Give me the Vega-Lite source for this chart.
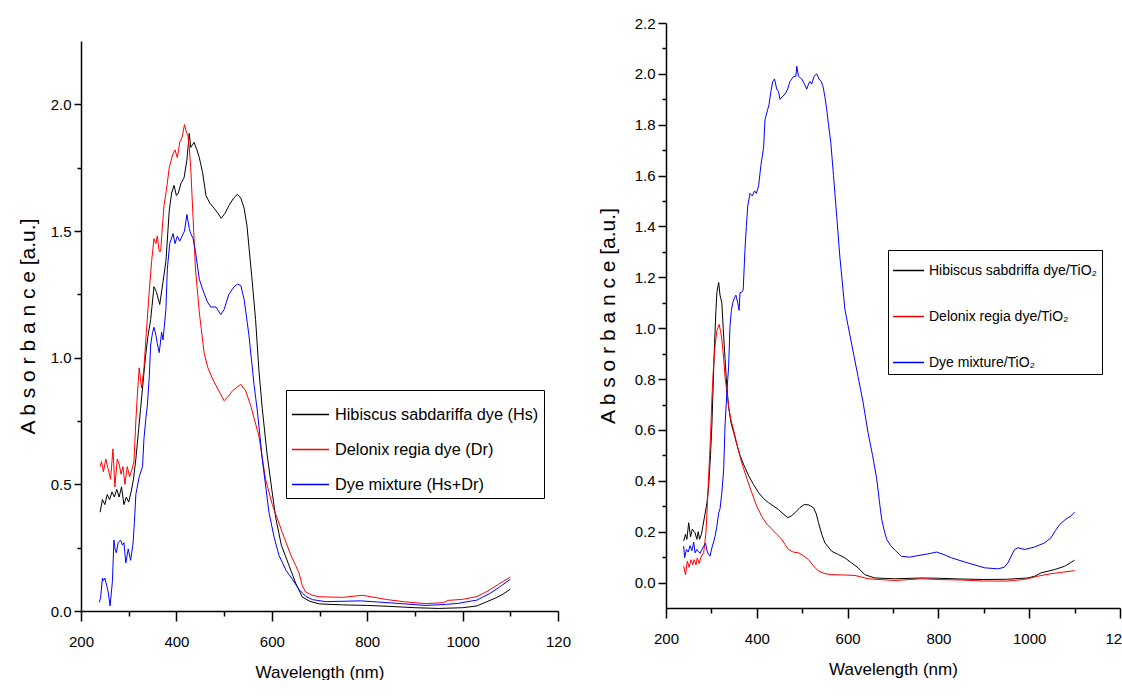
{
  "$schema": "https://vega.github.io/schema/vega-lite/v6.json",
  "padding": {"left": 17, "top": 16, "right": 0, "bottom": 0},
  "background": "white",
  "config": {
    "font": "Liberation Sans",
    "view": {"stroke": null},
    "axis": {
      "grid": false, "domainColor": "#000", "domainWidth": 1.5, "tickColor": "#000", "tickWidth": 1.5,
      "labelColor": "#000", "titleColor": "#000", "labelFont": "Liberation Sans", "titleFont": "Liberation Sans",
      "labelFontSize": 15, "titleFontWeight": "normal"
    },
    "legend": {"labelFont": "Liberation Sans", "labelColor": "#000"}
  },
  "spacing": 26,
  "resolve": {"scale": {"color": "independent"}, "legend": {"color": "independent"}},
  "datasets": {
    "left": [
      {"s":"Hibiscus sabdariffa dye (Hs)","w":240,"a":0.39},{"s":"Hibiscus sabdariffa dye (Hs)","w":245,"a":0.44},{"s":"Hibiscus sabdariffa dye (Hs)","w":250,"a":0.42},{"s":"Hibiscus sabdariffa dye (Hs)","w":255,"a":0.46},{"s":"Hibiscus sabdariffa dye (Hs)","w":260,"a":0.44},{"s":"Hibiscus sabdariffa dye (Hs)","w":265,"a":0.47},{"s":"Hibiscus sabdariffa dye (Hs)","w":270,"a":0.45},{"s":"Hibiscus sabdariffa dye (Hs)","w":275,"a":0.48},{"s":"Hibiscus sabdariffa dye (Hs)","w":280,"a":0.45},{"s":"Hibiscus sabdariffa dye (Hs)","w":285,"a":0.49},{"s":"Hibiscus sabdariffa dye (Hs)","w":290,"a":0.42},{"s":"Hibiscus sabdariffa dye (Hs)","w":295,"a":0.45},{"s":"Hibiscus sabdariffa dye (Hs)","w":300,"a":0.43},{"s":"Hibiscus sabdariffa dye (Hs)","w":305,"a":0.47},{"s":"Hibiscus sabdariffa dye (Hs)","w":310,"a":0.52},{"s":"Hibiscus sabdariffa dye (Hs)","w":315,"a":0.60},{"s":"Hibiscus sabdariffa dye (Hs)","w":320,"a":0.70},{"s":"Hibiscus sabdariffa dye (Hs)","w":325,"a":0.80},{"s":"Hibiscus sabdariffa dye (Hs)","w":330,"a":0.90},{"s":"Hibiscus sabdariffa dye (Hs)","w":335,"a":1.00},{"s":"Hibiscus sabdariffa dye (Hs)","w":340,"a":1.08},{"s":"Hibiscus sabdariffa dye (Hs)","w":346,"a":1.15},{"s":"Hibiscus sabdariffa dye (Hs)","w":353,"a":1.28},{"s":"Hibiscus sabdariffa dye (Hs)","w":358,"a":1.26},{"s":"Hibiscus sabdariffa dye (Hs)","w":365,"a":1.21},{"s":"Hibiscus sabdariffa dye (Hs)","w":372,"a":1.30},{"s":"Hibiscus sabdariffa dye (Hs)","w":378,"a":1.38},{"s":"Hibiscus sabdariffa dye (Hs)","w":385,"a":1.58},{"s":"Hibiscus sabdariffa dye (Hs)","w":390,"a":1.65},{"s":"Hibiscus sabdariffa dye (Hs)","w":395,"a":1.68},{"s":"Hibiscus sabdariffa dye (Hs)","w":400,"a":1.64},{"s":"Hibiscus sabdariffa dye (Hs)","w":404,"a":1.65},{"s":"Hibiscus sabdariffa dye (Hs)","w":410,"a":1.69},{"s":"Hibiscus sabdariffa dye (Hs)","w":416,"a":1.71},{"s":"Hibiscus sabdariffa dye (Hs)","w":422,"a":1.78},{"s":"Hibiscus sabdariffa dye (Hs)","w":427,"a":1.885},{"s":"Hibiscus sabdariffa dye (Hs)","w":430,"a":1.83},{"s":"Hibiscus sabdariffa dye (Hs)","w":437,"a":1.85},{"s":"Hibiscus sabdariffa dye (Hs)","w":443,"a":1.82},{"s":"Hibiscus sabdariffa dye (Hs)","w":448,"a":1.79},{"s":"Hibiscus sabdariffa dye (Hs)","w":455,"a":1.73},{"s":"Hibiscus sabdariffa dye (Hs)","w":462,"a":1.64},{"s":"Hibiscus sabdariffa dye (Hs)","w":470,"a":1.61},{"s":"Hibiscus sabdariffa dye (Hs)","w":479,"a":1.59},{"s":"Hibiscus sabdariffa dye (Hs)","w":487,"a":1.57},{"s":"Hibiscus sabdariffa dye (Hs)","w":494,"a":1.55},{"s":"Hibiscus sabdariffa dye (Hs)","w":502,"a":1.57},{"s":"Hibiscus sabdariffa dye (Hs)","w":510,"a":1.60},{"s":"Hibiscus sabdariffa dye (Hs)","w":520,"a":1.63},{"s":"Hibiscus sabdariffa dye (Hs)","w":528,"a":1.645},{"s":"Hibiscus sabdariffa dye (Hs)","w":535,"a":1.63},{"s":"Hibiscus sabdariffa dye (Hs)","w":542,"a":1.59},{"s":"Hibiscus sabdariffa dye (Hs)","w":548,"a":1.52},{"s":"Hibiscus sabdariffa dye (Hs)","w":552,"a":1.44},{"s":"Hibiscus sabdariffa dye (Hs)","w":558,"a":1.32},{"s":"Hibiscus sabdariffa dye (Hs)","w":566,"a":1.15},{"s":"Hibiscus sabdariffa dye (Hs)","w":573,"a":0.95},{"s":"Hibiscus sabdariffa dye (Hs)","w":580,"a":0.80},{"s":"Hibiscus sabdariffa dye (Hs)","w":590,"a":0.62},{"s":"Hibiscus sabdariffa dye (Hs)","w":600,"a":0.48},{"s":"Hibiscus sabdariffa dye (Hs)","w":608,"a":0.37},{"s":"Hibiscus sabdariffa dye (Hs)","w":620,"a":0.26},{"s":"Hibiscus sabdariffa dye (Hs)","w":636,"a":0.18},{"s":"Hibiscus sabdariffa dye (Hs)","w":650,"a":0.11},{"s":"Hibiscus sabdariffa dye (Hs)","w":664,"a":0.055},{"s":"Hibiscus sabdariffa dye (Hs)","w":680,"a":0.038},{"s":"Hibiscus sabdariffa dye (Hs)","w":700,"a":0.028},{"s":"Hibiscus sabdariffa dye (Hs)","w":750,"a":0.024},{"s":"Hibiscus sabdariffa dye (Hs)","w":800,"a":0.022},{"s":"Hibiscus sabdariffa dye (Hs)","w":850,"a":0.018},{"s":"Hibiscus sabdariffa dye (Hs)","w":900,"a":0.013},{"s":"Hibiscus sabdariffa dye (Hs)","w":950,"a":0.010},{"s":"Hibiscus sabdariffa dye (Hs)","w":1000,"a":0.013},{"s":"Hibiscus sabdariffa dye (Hs)","w":1030,"a":0.020},{"s":"Hibiscus sabdariffa dye (Hs)","w":1050,"a":0.036},{"s":"Hibiscus sabdariffa dye (Hs)","w":1070,"a":0.052},{"s":"Hibiscus sabdariffa dye (Hs)","w":1085,"a":0.067},{"s":"Hibiscus sabdariffa dye (Hs)","w":1100,"a":0.086},

      {"s":"Delonix regia  dye (Dr)","w":240,"a":0.57},{"s":"Delonix regia  dye (Dr)","w":243,"a":0.59},{"s":"Delonix regia  dye (Dr)","w":247,"a":0.55},{"s":"Delonix regia  dye (Dr)","w":252,"a":0.60},{"s":"Delonix regia  dye (Dr)","w":257,"a":0.56},{"s":"Delonix regia  dye (Dr)","w":262,"a":0.52},{"s":"Delonix regia  dye (Dr)","w":267,"a":0.64},{"s":"Delonix regia  dye (Dr)","w":271,"a":0.49},{"s":"Delonix regia  dye (Dr)","w":276,"a":0.60},{"s":"Delonix regia  dye (Dr)","w":280,"a":0.58},{"s":"Delonix regia  dye (Dr)","w":284,"a":0.54},{"s":"Delonix regia  dye (Dr)","w":288,"a":0.57},{"s":"Delonix regia  dye (Dr)","w":292,"a":0.50},{"s":"Delonix regia  dye (Dr)","w":297,"a":0.57},{"s":"Delonix regia  dye (Dr)","w":302,"a":0.53},{"s":"Delonix regia  dye (Dr)","w":307,"a":0.56},{"s":"Delonix regia  dye (Dr)","w":311,"a":0.59},{"s":"Delonix regia  dye (Dr)","w":315,"a":0.75},{"s":"Delonix regia  dye (Dr)","w":318,"a":0.85},{"s":"Delonix regia  dye (Dr)","w":322,"a":0.96},{"s":"Delonix regia  dye (Dr)","w":327,"a":0.88},{"s":"Delonix regia  dye (Dr)","w":332,"a":0.96},{"s":"Delonix regia  dye (Dr)","w":337,"a":1.10},{"s":"Delonix regia  dye (Dr)","w":343,"a":1.26},{"s":"Delonix regia  dye (Dr)","w":348,"a":1.38},{"s":"Delonix regia  dye (Dr)","w":353,"a":1.47},{"s":"Delonix regia  dye (Dr)","w":357,"a":1.45},{"s":"Delonix regia  dye (Dr)","w":360,"a":1.48},{"s":"Delonix regia  dye (Dr)","w":364,"a":1.42},{"s":"Delonix regia  dye (Dr)","w":367,"a":1.42},{"s":"Delonix regia  dye (Dr)","w":370,"a":1.50},{"s":"Delonix regia  dye (Dr)","w":374,"a":1.60},{"s":"Delonix regia  dye (Dr)","w":379,"a":1.66},{"s":"Delonix regia  dye (Dr)","w":385,"a":1.75},{"s":"Delonix regia  dye (Dr)","w":392,"a":1.80},{"s":"Delonix regia  dye (Dr)","w":397,"a":1.82},{"s":"Delonix regia  dye (Dr)","w":402,"a":1.79},{"s":"Delonix regia  dye (Dr)","w":407,"a":1.85},{"s":"Delonix regia  dye (Dr)","w":412,"a":1.87},{"s":"Delonix regia  dye (Dr)","w":417,"a":1.92},{"s":"Delonix regia  dye (Dr)","w":421,"a":1.89},{"s":"Delonix regia  dye (Dr)","w":424,"a":1.88},{"s":"Delonix regia  dye (Dr)","w":427,"a":1.83},{"s":"Delonix regia  dye (Dr)","w":430,"a":1.75},{"s":"Delonix regia  dye (Dr)","w":435,"a":1.55},{"s":"Delonix regia  dye (Dr)","w":440,"a":1.35},{"s":"Delonix regia  dye (Dr)","w":448,"a":1.18},{"s":"Delonix regia  dye (Dr)","w":458,"a":1.02},{"s":"Delonix regia  dye (Dr)","w":466,"a":0.96},{"s":"Delonix regia  dye (Dr)","w":475,"a":0.92},{"s":"Delonix regia  dye (Dr)","w":483,"a":0.89},{"s":"Delonix regia  dye (Dr)","w":490,"a":0.865},{"s":"Delonix regia  dye (Dr)","w":500,"a":0.83},{"s":"Delonix regia  dye (Dr)","w":510,"a":0.85},{"s":"Delonix regia  dye (Dr)","w":518,"a":0.87},{"s":"Delonix regia  dye (Dr)","w":525,"a":0.88},{"s":"Delonix regia  dye (Dr)","w":535,"a":0.895},{"s":"Delonix regia  dye (Dr)","w":545,"a":0.87},{"s":"Delonix regia  dye (Dr)","w":556,"a":0.81},{"s":"Delonix regia  dye (Dr)","w":563,"a":0.76},{"s":"Delonix regia  dye (Dr)","w":573,"a":0.69},{"s":"Delonix regia  dye (Dr)","w":587,"a":0.52},{"s":"Delonix regia  dye (Dr)","w":601,"a":0.42},{"s":"Delonix regia  dye (Dr)","w":622,"a":0.31},{"s":"Delonix regia  dye (Dr)","w":640,"a":0.22},{"s":"Delonix regia  dye (Dr)","w":650,"a":0.18},{"s":"Delonix regia  dye (Dr)","w":657,"a":0.15},{"s":"Delonix regia  dye (Dr)","w":664,"a":0.10},{"s":"Delonix regia  dye (Dr)","w":671,"a":0.075},{"s":"Delonix regia  dye (Dr)","w":685,"a":0.062},{"s":"Delonix regia  dye (Dr)","w":700,"a":0.056},{"s":"Delonix regia  dye (Dr)","w":750,"a":0.054},{"s":"Delonix regia  dye (Dr)","w":790,"a":0.062},{"s":"Delonix regia  dye (Dr)","w":842,"a":0.045},{"s":"Delonix regia  dye (Dr)","w":880,"a":0.036},{"s":"Delonix regia  dye (Dr)","w":923,"a":0.029},{"s":"Delonix regia  dye (Dr)","w":960,"a":0.033},{"s":"Delonix regia  dye (Dr)","w":970,"a":0.042},{"s":"Delonix regia  dye (Dr)","w":1000,"a":0.046},{"s":"Delonix regia  dye (Dr)","w":1030,"a":0.057},{"s":"Delonix regia  dye (Dr)","w":1051,"a":0.077},{"s":"Delonix regia  dye (Dr)","w":1075,"a":0.105},{"s":"Delonix regia  dye (Dr)","w":1100,"a":0.134},

      {"s":"Dye mixture (Hs+Dr)","w":238,"a":0.034},{"s":"Dye mixture (Hs+Dr)","w":241,"a":0.05},{"s":"Dye mixture (Hs+Dr)","w":245,"a":0.13},{"s":"Dye mixture (Hs+Dr)","w":247,"a":0.12},{"s":"Dye mixture (Hs+Dr)","w":250,"a":0.13},{"s":"Dye mixture (Hs+Dr)","w":254,"a":0.10},{"s":"Dye mixture (Hs+Dr)","w":257,"a":0.075},{"s":"Dye mixture (Hs+Dr)","w":261,"a":0.02},{"s":"Dye mixture (Hs+Dr)","w":266,"a":0.12},{"s":"Dye mixture (Hs+Dr)","w":269,"a":0.28},{"s":"Dye mixture (Hs+Dr)","w":272,"a":0.24},{"s":"Dye mixture (Hs+Dr)","w":274,"a":0.23},{"s":"Dye mixture (Hs+Dr)","w":278,"a":0.27},{"s":"Dye mixture (Hs+Dr)","w":283,"a":0.28},{"s":"Dye mixture (Hs+Dr)","w":287,"a":0.26},{"s":"Dye mixture (Hs+Dr)","w":290,"a":0.27},{"s":"Dye mixture (Hs+Dr)","w":294,"a":0.19},{"s":"Dye mixture (Hs+Dr)","w":299,"a":0.245},{"s":"Dye mixture (Hs+Dr)","w":304,"a":0.20},{"s":"Dye mixture (Hs+Dr)","w":309,"a":0.265},{"s":"Dye mixture (Hs+Dr)","w":312,"a":0.35},{"s":"Dye mixture (Hs+Dr)","w":315,"a":0.46},{"s":"Dye mixture (Hs+Dr)","w":322,"a":0.53},{"s":"Dye mixture (Hs+Dr)","w":329,"a":0.57},{"s":"Dye mixture (Hs+Dr)","w":332,"a":0.68},{"s":"Dye mixture (Hs+Dr)","w":336,"a":0.76},{"s":"Dye mixture (Hs+Dr)","w":339,"a":0.81},{"s":"Dye mixture (Hs+Dr)","w":343,"a":0.92},{"s":"Dye mixture (Hs+Dr)","w":346,"a":1.05},{"s":"Dye mixture (Hs+Dr)","w":350,"a":1.10},{"s":"Dye mixture (Hs+Dr)","w":353,"a":1.12},{"s":"Dye mixture (Hs+Dr)","w":357,"a":1.09},{"s":"Dye mixture (Hs+Dr)","w":360,"a":1.055},{"s":"Dye mixture (Hs+Dr)","w":364,"a":1.02},{"s":"Dye mixture (Hs+Dr)","w":369,"a":1.10},{"s":"Dye mixture (Hs+Dr)","w":372,"a":1.07},{"s":"Dye mixture (Hs+Dr)","w":378,"a":1.19},{"s":"Dye mixture (Hs+Dr)","w":381,"a":1.35},{"s":"Dye mixture (Hs+Dr)","w":386,"a":1.45},{"s":"Dye mixture (Hs+Dr)","w":393,"a":1.49},{"s":"Dye mixture (Hs+Dr)","w":397,"a":1.45},{"s":"Dye mixture (Hs+Dr)","w":402,"a":1.48},{"s":"Dye mixture (Hs+Dr)","w":407,"a":1.46},{"s":"Dye mixture (Hs+Dr)","w":412,"a":1.48},{"s":"Dye mixture (Hs+Dr)","w":417,"a":1.50},{"s":"Dye mixture (Hs+Dr)","w":422,"a":1.565},{"s":"Dye mixture (Hs+Dr)","w":427,"a":1.51},{"s":"Dye mixture (Hs+Dr)","w":430,"a":1.49},{"s":"Dye mixture (Hs+Dr)","w":435,"a":1.47},{"s":"Dye mixture (Hs+Dr)","w":440,"a":1.42},{"s":"Dye mixture (Hs+Dr)","w":448,"a":1.31},{"s":"Dye mixture (Hs+Dr)","w":455,"a":1.27},{"s":"Dye mixture (Hs+Dr)","w":465,"a":1.22},{"s":"Dye mixture (Hs+Dr)","w":472,"a":1.20},{"s":"Dye mixture (Hs+Dr)","w":483,"a":1.20},{"s":"Dye mixture (Hs+Dr)","w":493,"a":1.17},{"s":"Dye mixture (Hs+Dr)","w":500,"a":1.19},{"s":"Dye mixture (Hs+Dr)","w":510,"a":1.25},{"s":"Dye mixture (Hs+Dr)","w":521,"a":1.28},{"s":"Dye mixture (Hs+Dr)","w":528,"a":1.29},{"s":"Dye mixture (Hs+Dr)","w":535,"a":1.285},{"s":"Dye mixture (Hs+Dr)","w":542,"a":1.23},{"s":"Dye mixture (Hs+Dr)","w":552,"a":1.09},{"s":"Dye mixture (Hs+Dr)","w":563,"a":0.89},{"s":"Dye mixture (Hs+Dr)","w":570,"a":0.785},{"s":"Dye mixture (Hs+Dr)","w":580,"a":0.60},{"s":"Dye mixture (Hs+Dr)","w":594,"a":0.39},{"s":"Dye mixture (Hs+Dr)","w":605,"a":0.29},{"s":"Dye mixture (Hs+Dr)","w":615,"a":0.22},{"s":"Dye mixture (Hs+Dr)","w":630,"a":0.16},{"s":"Dye mixture (Hs+Dr)","w":643,"a":0.126},{"s":"Dye mixture (Hs+Dr)","w":657,"a":0.085},{"s":"Dye mixture (Hs+Dr)","w":671,"a":0.058},{"s":"Dye mixture (Hs+Dr)","w":685,"a":0.045},{"s":"Dye mixture (Hs+Dr)","w":713,"a":0.037},{"s":"Dye mixture (Hs+Dr)","w":786,"a":0.040},{"s":"Dye mixture (Hs+Dr)","w":850,"a":0.032},{"s":"Dye mixture (Hs+Dr)","w":923,"a":0.022},{"s":"Dye mixture (Hs+Dr)","w":964,"a":0.026},{"s":"Dye mixture (Hs+Dr)","w":990,"a":0.030},{"s":"Dye mixture (Hs+Dr)","w":1030,"a":0.043},{"s":"Dye mixture (Hs+Dr)","w":1058,"a":0.070},{"s":"Dye mixture (Hs+Dr)","w":1080,"a":0.098},{"s":"Dye mixture (Hs+Dr)","w":1100,"a":0.125}
    ],
    "right": [
      {"s":"Hibiscus sabdriffa dye/TiO₂","w":239,"a":0.163},{"s":"Hibiscus sabdriffa dye/TiO₂","w":243,"a":0.19},{"s":"Hibiscus sabdriffa dye/TiO₂","w":246,"a":0.17},{"s":"Hibiscus sabdriffa dye/TiO₂","w":250,"a":0.235},{"s":"Hibiscus sabdriffa dye/TiO₂","w":254,"a":0.18},{"s":"Hibiscus sabdriffa dye/TiO₂","w":258,"a":0.21},{"s":"Hibiscus sabdriffa dye/TiO₂","w":262,"a":0.20},{"s":"Hibiscus sabdriffa dye/TiO₂","w":264,"a":0.196},{"s":"Hibiscus sabdriffa dye/TiO₂","w":268,"a":0.17},{"s":"Hibiscus sabdriffa dye/TiO₂","w":271,"a":0.20},{"s":"Hibiscus sabdriffa dye/TiO₂","w":274,"a":0.17},{"s":"Hibiscus sabdriffa dye/TiO₂","w":278,"a":0.19},{"s":"Hibiscus sabdriffa dye/TiO₂","w":281,"a":0.22},{"s":"Hibiscus sabdriffa dye/TiO₂","w":286,"a":0.27},{"s":"Hibiscus sabdriffa dye/TiO₂","w":290,"a":0.31},{"s":"Hibiscus sabdriffa dye/TiO₂","w":294,"a":0.38},{"s":"Hibiscus sabdriffa dye/TiO₂","w":298,"a":0.50},{"s":"Hibiscus sabdriffa dye/TiO₂","w":301,"a":0.615},{"s":"Hibiscus sabdriffa dye/TiO₂","w":304,"a":0.78},{"s":"Hibiscus sabdriffa dye/TiO₂","w":307,"a":0.94},{"s":"Hibiscus sabdriffa dye/TiO₂","w":310,"a":1.07},{"s":"Hibiscus sabdriffa dye/TiO₂","w":312,"a":1.14},{"s":"Hibiscus sabdriffa dye/TiO₂","w":316,"a":1.18},{"s":"Hibiscus sabdriffa dye/TiO₂","w":319,"a":1.13},{"s":"Hibiscus sabdriffa dye/TiO₂","w":323,"a":1.10},{"s":"Hibiscus sabdriffa dye/TiO₂","w":326,"a":1.00},{"s":"Hibiscus sabdriffa dye/TiO₂","w":330,"a":0.88},{"s":"Hibiscus sabdriffa dye/TiO₂","w":334,"a":0.77},{"s":"Hibiscus sabdriffa dye/TiO₂","w":338,"a":0.69},{"s":"Hibiscus sabdriffa dye/TiO₂","w":343,"a":0.63},{"s":"Hibiscus sabdriffa dye/TiO₂","w":349,"a":0.59},{"s":"Hibiscus sabdriffa dye/TiO₂","w":355,"a":0.55},{"s":"Hibiscus sabdriffa dye/TiO₂","w":363,"a":0.50},{"s":"Hibiscus sabdriffa dye/TiO₂","w":372,"a":0.46},{"s":"Hibiscus sabdriffa dye/TiO₂","w":382,"a":0.42},{"s":"Hibiscus sabdriffa dye/TiO₂","w":393,"a":0.385},{"s":"Hibiscus sabdriffa dye/TiO₂","w":404,"a":0.353},{"s":"Hibiscus sabdriffa dye/TiO₂","w":415,"a":0.33},{"s":"Hibiscus sabdriffa dye/TiO₂","w":426,"a":0.314},{"s":"Hibiscus sabdriffa dye/TiO₂","w":437,"a":0.30},{"s":"Hibiscus sabdriffa dye/TiO₂","w":448,"a":0.287},{"s":"Hibiscus sabdriffa dye/TiO₂","w":458,"a":0.27},{"s":"Hibiscus sabdriffa dye/TiO₂","w":468,"a":0.255},{"s":"Hibiscus sabdriffa dye/TiO₂","w":476,"a":0.262},{"s":"Hibiscus sabdriffa dye/TiO₂","w":484,"a":0.274},{"s":"Hibiscus sabdriffa dye/TiO₂","w":495,"a":0.295},{"s":"Hibiscus sabdriffa dye/TiO₂","w":505,"a":0.307},{"s":"Hibiscus sabdriffa dye/TiO₂","w":515,"a":0.305},{"s":"Hibiscus sabdriffa dye/TiO₂","w":525,"a":0.294},{"s":"Hibiscus sabdriffa dye/TiO₂","w":531,"a":0.27},{"s":"Hibiscus sabdriffa dye/TiO₂","w":536,"a":0.235},{"s":"Hibiscus sabdriffa dye/TiO₂","w":543,"a":0.19},{"s":"Hibiscus sabdriffa dye/TiO₂","w":550,"a":0.156},{"s":"Hibiscus sabdriffa dye/TiO₂","w":565,"a":0.123},{"s":"Hibiscus sabdriffa dye/TiO₂","w":580,"a":0.11},{"s":"Hibiscus sabdriffa dye/TiO₂","w":594,"a":0.097},{"s":"Hibiscus sabdriffa dye/TiO₂","w":609,"a":0.077},{"s":"Hibiscus sabdriffa dye/TiO₂","w":623,"a":0.058},{"s":"Hibiscus sabdriffa dye/TiO₂","w":638,"a":0.031},{"s":"Hibiscus sabdriffa dye/TiO₂","w":660,"a":0.018},{"s":"Hibiscus sabdriffa dye/TiO₂","w":704,"a":0.015},{"s":"Hibiscus sabdriffa dye/TiO₂","w":763,"a":0.018},{"s":"Hibiscus sabdriffa dye/TiO₂","w":800,"a":0.017},{"s":"Hibiscus sabdriffa dye/TiO₂","w":850,"a":0.014},{"s":"Hibiscus sabdriffa dye/TiO₂","w":900,"a":0.012},{"s":"Hibiscus sabdriffa dye/TiO₂","w":950,"a":0.013},{"s":"Hibiscus sabdriffa dye/TiO₂","w":997,"a":0.018},{"s":"Hibiscus sabdriffa dye/TiO₂","w":1012,"a":0.025},{"s":"Hibiscus sabdriffa dye/TiO₂","w":1026,"a":0.038},{"s":"Hibiscus sabdriffa dye/TiO₂","w":1056,"a":0.051},{"s":"Hibiscus sabdriffa dye/TiO₂","w":1078,"a":0.064},{"s":"Hibiscus sabdriffa dye/TiO₂","w":1100,"a":0.088},

      {"s":"Delonix regia dye/TiO₂","w":239,"a":0.064},{"s":"Delonix regia dye/TiO₂","w":243,"a":0.031},{"s":"Delonix regia dye/TiO₂","w":247,"a":0.084},{"s":"Delonix regia dye/TiO₂","w":251,"a":0.06},{"s":"Delonix regia dye/TiO₂","w":255,"a":0.09},{"s":"Delonix regia dye/TiO₂","w":259,"a":0.07},{"s":"Delonix regia dye/TiO₂","w":262,"a":0.09},{"s":"Delonix regia dye/TiO₂","w":266,"a":0.07},{"s":"Delonix regia dye/TiO₂","w":269,"a":0.097},{"s":"Delonix regia dye/TiO₂","w":273,"a":0.075},{"s":"Delonix regia dye/TiO₂","w":277,"a":0.10},{"s":"Delonix regia dye/TiO₂","w":283,"a":0.117},{"s":"Delonix regia dye/TiO₂","w":288,"a":0.196},{"s":"Delonix regia dye/TiO₂","w":291,"a":0.30},{"s":"Delonix regia dye/TiO₂","w":294,"a":0.42},{"s":"Delonix regia dye/TiO₂","w":298,"a":0.57},{"s":"Delonix regia dye/TiO₂","w":301,"a":0.72},{"s":"Delonix regia dye/TiO₂","w":304,"a":0.83},{"s":"Delonix regia dye/TiO₂","w":308,"a":0.93},{"s":"Delonix regia dye/TiO₂","w":312,"a":0.99},{"s":"Delonix regia dye/TiO₂","w":317,"a":1.015},{"s":"Delonix regia dye/TiO₂","w":320,"a":0.99},{"s":"Delonix regia dye/TiO₂","w":323,"a":0.957},{"s":"Delonix regia dye/TiO₂","w":327,"a":0.88},{"s":"Delonix regia dye/TiO₂","w":330,"a":0.81},{"s":"Delonix regia dye/TiO₂","w":334,"a":0.75},{"s":"Delonix regia dye/TiO₂","w":338,"a":0.69},{"s":"Delonix regia dye/TiO₂","w":343,"a":0.64},{"s":"Delonix regia dye/TiO₂","w":349,"a":0.60},{"s":"Delonix regia dye/TiO₂","w":358,"a":0.53},{"s":"Delonix regia dye/TiO₂","w":367,"a":0.47},{"s":"Delonix regia dye/TiO₂","w":378,"a":0.41},{"s":"Delonix regia dye/TiO₂","w":389,"a":0.353},{"s":"Delonix regia dye/TiO₂","w":400,"a":0.30},{"s":"Delonix regia dye/TiO₂","w":411,"a":0.26},{"s":"Delonix regia dye/TiO₂","w":422,"a":0.23},{"s":"Delonix regia dye/TiO₂","w":433,"a":0.21},{"s":"Delonix regia dye/TiO₂","w":444,"a":0.19},{"s":"Delonix regia dye/TiO₂","w":455,"a":0.17},{"s":"Delonix regia dye/TiO₂","w":462,"a":0.15},{"s":"Delonix regia dye/TiO₂","w":470,"a":0.13},{"s":"Delonix regia dye/TiO₂","w":480,"a":0.12},{"s":"Delonix regia dye/TiO₂","w":492,"a":0.117},{"s":"Delonix regia dye/TiO₂","w":503,"a":0.105},{"s":"Delonix regia dye/TiO₂","w":514,"a":0.09},{"s":"Delonix regia dye/TiO₂","w":525,"a":0.065},{"s":"Delonix regia dye/TiO₂","w":536,"a":0.045},{"s":"Delonix regia dye/TiO₂","w":550,"a":0.035},{"s":"Delonix regia dye/TiO₂","w":565,"a":0.031},{"s":"Delonix regia dye/TiO₂","w":590,"a":0.030},{"s":"Delonix regia dye/TiO₂","w":616,"a":0.028},{"s":"Delonix regia dye/TiO₂","w":645,"a":0.015},{"s":"Delonix regia dye/TiO₂","w":704,"a":0.008},{"s":"Delonix regia dye/TiO₂","w":763,"a":0.015},{"s":"Delonix regia dye/TiO₂","w":800,"a":0.012},{"s":"Delonix regia dye/TiO₂","w":850,"a":0.010},{"s":"Delonix regia dye/TiO₂","w":900,"a":0.006},{"s":"Delonix regia dye/TiO₂","w":950,"a":0.006},{"s":"Delonix regia dye/TiO₂","w":990,"a":0.012},{"s":"Delonix regia dye/TiO₂","w":1019,"a":0.025},{"s":"Delonix regia dye/TiO₂","w":1048,"a":0.035},{"s":"Delonix regia dye/TiO₂","w":1075,"a":0.041},{"s":"Delonix regia dye/TiO₂","w":1100,"a":0.047},

      {"s":"Dye mixture/TiO₂","w":239,"a":0.143},{"s":"Dye mixture/TiO₂","w":241,"a":0.098},{"s":"Dye mixture/TiO₂","w":245,"a":0.13},{"s":"Dye mixture/TiO₂","w":249,"a":0.12},{"s":"Dye mixture/TiO₂","w":253,"a":0.145},{"s":"Dye mixture/TiO₂","w":257,"a":0.125},{"s":"Dye mixture/TiO₂","w":261,"a":0.159},{"s":"Dye mixture/TiO₂","w":264,"a":0.117},{"s":"Dye mixture/TiO₂","w":268,"a":0.13},{"s":"Dye mixture/TiO₂","w":271,"a":0.123},{"s":"Dye mixture/TiO₂","w":275,"a":0.115},{"s":"Dye mixture/TiO₂","w":279,"a":0.13},{"s":"Dye mixture/TiO₂","w":283,"a":0.143},{"s":"Dye mixture/TiO₂","w":287,"a":0.155},{"s":"Dye mixture/TiO₂","w":291,"a":0.12},{"s":"Dye mixture/TiO₂","w":294,"a":0.11},{"s":"Dye mixture/TiO₂","w":297,"a":0.104},{"s":"Dye mixture/TiO₂","w":302,"a":0.143},{"s":"Dye mixture/TiO₂","w":305,"a":0.16},{"s":"Dye mixture/TiO₂","w":308,"a":0.182},{"s":"Dye mixture/TiO₂","w":312,"a":0.22},{"s":"Dye mixture/TiO₂","w":316,"a":0.274},{"s":"Dye mixture/TiO₂","w":319,"a":0.29},{"s":"Dye mixture/TiO₂","w":323,"a":0.353},{"s":"Dye mixture/TiO₂","w":327,"a":0.445},{"s":"Dye mixture/TiO₂","w":330,"a":0.615},{"s":"Dye mixture/TiO₂","w":334,"a":0.747},{"s":"Dye mixture/TiO₂","w":338,"a":0.85},{"s":"Dye mixture/TiO₂","w":341,"a":1.01},{"s":"Dye mixture/TiO₂","w":344,"a":1.07},{"s":"Dye mixture/TiO₂","w":347,"a":1.10},{"s":"Dye mixture/TiO₂","w":351,"a":1.12},{"s":"Dye mixture/TiO₂","w":354,"a":1.13},{"s":"Dye mixture/TiO₂","w":358,"a":1.10},{"s":"Dye mixture/TiO₂","w":361,"a":1.07},{"s":"Dye mixture/TiO₂","w":363,"a":1.14},{"s":"Dye mixture/TiO₂","w":366,"a":1.14},{"s":"Dye mixture/TiO₂","w":370,"a":1.15},{"s":"Dye mixture/TiO₂","w":374,"a":1.31},{"s":"Dye mixture/TiO₂","w":377,"a":1.40},{"s":"Dye mixture/TiO₂","w":380,"a":1.48},{"s":"Dye mixture/TiO₂","w":385,"a":1.53},{"s":"Dye mixture/TiO₂","w":390,"a":1.52},{"s":"Dye mixture/TiO₂","w":395,"a":1.54},{"s":"Dye mixture/TiO₂","w":399,"a":1.53},{"s":"Dye mixture/TiO₂","w":404,"a":1.56},{"s":"Dye mixture/TiO₂","w":409,"a":1.64},{"s":"Dye mixture/TiO₂","w":415,"a":1.71},{"s":"Dye mixture/TiO₂","w":418,"a":1.82},{"s":"Dye mixture/TiO₂","w":424,"a":1.86},{"s":"Dye mixture/TiO₂","w":427,"a":1.88},{"s":"Dye mixture/TiO₂","w":431,"a":1.93},{"s":"Dye mixture/TiO₂","w":435,"a":1.97},{"s":"Dye mixture/TiO₂","w":439,"a":1.98},{"s":"Dye mixture/TiO₂","w":444,"a":1.94},{"s":"Dye mixture/TiO₂","w":448,"a":1.93},{"s":"Dye mixture/TiO₂","w":451,"a":1.90},{"s":"Dye mixture/TiO₂","w":456,"a":1.91},{"s":"Dye mixture/TiO₂","w":462,"a":1.92},{"s":"Dye mixture/TiO₂","w":468,"a":1.94},{"s":"Dye mixture/TiO₂","w":473,"a":1.97},{"s":"Dye mixture/TiO₂","w":481,"a":1.99},{"s":"Dye mixture/TiO₂","w":486,"a":1.99},{"s":"Dye mixture/TiO₂","w":488,"a":2.03},{"s":"Dye mixture/TiO₂","w":492,"a":1.99},{"s":"Dye mixture/TiO₂","w":499,"a":1.98},{"s":"Dye mixture/TiO₂","w":505,"a":1.96},{"s":"Dye mixture/TiO₂","w":510,"a":1.94},{"s":"Dye mixture/TiO₂","w":514,"a":1.96},{"s":"Dye mixture/TiO₂","w":517,"a":1.97},{"s":"Dye mixture/TiO₂","w":521,"a":1.96},{"s":"Dye mixture/TiO₂","w":526,"a":1.99},{"s":"Dye mixture/TiO₂","w":532,"a":2.00},{"s":"Dye mixture/TiO₂","w":537,"a":1.98},{"s":"Dye mixture/TiO₂","w":542,"a":1.97},{"s":"Dye mixture/TiO₂","w":546,"a":1.95},{"s":"Dye mixture/TiO₂","w":550,"a":1.91},{"s":"Dye mixture/TiO₂","w":554,"a":1.86},{"s":"Dye mixture/TiO₂","w":558,"a":1.80},{"s":"Dye mixture/TiO₂","w":563,"a":1.73},{"s":"Dye mixture/TiO₂","w":569,"a":1.60},{"s":"Dye mixture/TiO₂","w":576,"a":1.44},{"s":"Dye mixture/TiO₂","w":583,"a":1.28},{"s":"Dye mixture/TiO₂","w":594,"a":1.075},{"s":"Dye mixture/TiO₂","w":601,"a":1.01},{"s":"Dye mixture/TiO₂","w":612,"a":0.91},{"s":"Dye mixture/TiO₂","w":623,"a":0.81},{"s":"Dye mixture/TiO₂","w":634,"a":0.71},{"s":"Dye mixture/TiO₂","w":645,"a":0.59},{"s":"Dye mixture/TiO₂","w":655,"a":0.50},{"s":"Dye mixture/TiO₂","w":664,"a":0.41},{"s":"Dye mixture/TiO₂","w":670,"a":0.32},{"s":"Dye mixture/TiO₂","w":675,"a":0.25},{"s":"Dye mixture/TiO₂","w":680,"a":0.21},{"s":"Dye mixture/TiO₂","w":686,"a":0.17},{"s":"Dye mixture/TiO₂","w":695,"a":0.145},{"s":"Dye mixture/TiO₂","w":704,"a":0.128},{"s":"Dye mixture/TiO₂","w":719,"a":0.103},{"s":"Dye mixture/TiO₂","w":737,"a":0.10},{"s":"Dye mixture/TiO₂","w":755,"a":0.106},{"s":"Dye mixture/TiO₂","w":775,"a":0.112},{"s":"Dye mixture/TiO₂","w":796,"a":0.12},{"s":"Dye mixture/TiO₂","w":812,"a":0.11},{"s":"Dye mixture/TiO₂","w":829,"a":0.097},{"s":"Dye mixture/TiO₂","w":865,"a":0.077},{"s":"Dye mixture/TiO₂","w":902,"a":0.058},{"s":"Dye mixture/TiO₂","w":931,"a":0.054},{"s":"Dye mixture/TiO₂","w":945,"a":0.06},{"s":"Dye mixture/TiO₂","w":953,"a":0.077},{"s":"Dye mixture/TiO₂","w":962,"a":0.11},{"s":"Dye mixture/TiO₂","w":968,"a":0.13},{"s":"Dye mixture/TiO₂","w":975,"a":0.137},{"s":"Dye mixture/TiO₂","w":990,"a":0.13},{"s":"Dye mixture/TiO₂","w":1012,"a":0.14},{"s":"Dye mixture/TiO₂","w":1034,"a":0.156},{"s":"Dye mixture/TiO₂","w":1048,"a":0.176},{"s":"Dye mixture/TiO₂","w":1058,"a":0.205},{"s":"Dye mixture/TiO₂","w":1067,"a":0.228},{"s":"Dye mixture/TiO₂","w":1081,"a":0.25},{"s":"Dye mixture/TiO₂","w":1092,"a":0.262},{"s":"Dye mixture/TiO₂","w":1100,"a":0.277}
    ]
  },
  "hconcat": [
    {
      "spacing": 10,
      "vconcat": [
        {
          "width": 477,
          "height": 8,
          "data": {"values": []},
          "mark": "point"
        },
        {
          "width": 477,
          "height": 570,
          "data": {"name": "left"},
          "mark": {"type": "line", "strokeWidth": 1},
          "encoding": {
            "x": {
              "field": "w", "type": "quantitative",
              "scale": {"domain": [200, 1200], "nice": false, "zero": false},
              "axis": {
                "title": "Wavelength (nm)", "titleFontSize": 17, "titlePadding": 15,
                "values": [200, 300, 400, 500, 600, 700, 800, 900, 1000, 1100, 1200],
                "format": "d",
                "labelExpr": "datum.value == 1200 ? '120' : (datum.value % 200 == 0 ? datum.label : '')",
                "tickSize": {"condition": {"test": "datum.value % 200 == 0", "value": 10}, "value": 5},
                "labelPadding": 13, "labelFlush": false
              }
            },
            "y": {
              "field": "a", "type": "quantitative",
              "scale": {"domain": [0, 2.25], "nice": false},
              "axis": {
                "title": "A b s o r b a n c e  [a.u.]", "titleFontSize": 21, "titlePadding": 12,
                "values": [0, 0.25, 0.5, 0.75, 1, 1.25, 1.5, 1.75, 2],
                "labelExpr": "abs(datum.value*2 - round(datum.value*2)) < 0.001 ? format(datum.value, '.1f') : ''",
                "tickSize": {"condition": {"test": "abs(datum.value*2 - round(datum.value*2)) < 0.001", "value": 7}, "value": 4},
                "labelPadding": 3, "labelFlush": false
              }
            },
            "color": {
              "field": "s", "type": "nominal", "sort": null,
              "scale": {"domain": ["Hibiscus sabdariffa dye (Hs)", "Delonix regia  dye (Dr)", "Dye mixture (Hs+Dr)"], "range": ["#000000", "#ff0000", "#0000ff"]},
              "legend": {
                "orient": "none", "legendX": 205, "legendY": 367, "title": null,
                "symbolType": "stroke", "symbolSize": 1369, "symbolStrokeWidth": 1.5,
                "labelFontSize": 16.3, "labelLimit": 400, "labelOffset": 5, "rowPadding": 7,
                "strokeColor": "#000", "padding": 5
              }
            }
          }
        }
      ]
    },
    {
      "width": 454,
      "height": 585,
      "data": {"name": "right"},
      "mark": {"type": "line", "strokeWidth": 1},
      "encoding": {
        "x": {
          "field": "w", "type": "quantitative",
          "scale": {"domain": [200, 1200], "nice": false, "zero": false},
          "axis": {
            "title": "Wavelength (nm)", "titleFontSize": 17, "titlePadding": 15,
            "values": [200, 300, 400, 500, 600, 700, 800, 900, 1000, 1100, 1200],
            "format": "d",
            "labelExpr": "datum.value == 1200 ? '12' : (datum.value % 200 == 0 ? datum.label : '')",
            "labelAlign": {"condition": {"test": "datum.value == 1200", "value": "left"}, "value": "center"},
            "labelOffset": {"condition": {"test": "datum.value == 1200", "value": -15}, "value": 0},
            "tickSize": {"condition": {"test": "datum.value % 200 == 0", "value": 10}, "value": 5},
            "labelPadding": 13, "labelFlush": false
          }
        },
        "y": {
          "field": "a", "type": "quantitative",
          "scale": {"domain": [-0.1, 2.2], "nice": false, "zero": false},
          "axis": {
            "title": "A b s o r b a n c e  [a.u.]", "titleFontSize": 21, "titlePadding": 16,
            "values": [0, 0.1, 0.2, 0.3, 0.4, 0.5, 0.6, 0.7, 0.8, 0.9, 1, 1.1, 1.2, 1.3, 1.4, 1.5, 1.6, 1.7, 1.8, 1.9, 2, 2.1, 2.2],
            "labelExpr": "abs(datum.value*5 - round(datum.value*5)) < 0.001 ? format(datum.value, '.1f') : ''",
            "tickSize": {"condition": {"test": "abs(datum.value*5 - round(datum.value*5)) < 0.001", "value": 8}, "value": 4},
            "labelPadding": 3, "labelFlush": false
          }
        },
        "color": {
          "field": "s", "type": "nominal", "sort": null,
          "scale": {"domain": ["Hibiscus sabdriffa dye/TiO₂", "Delonix regia dye/TiO₂", "Dye mixture/TiO₂"], "range": ["#000000", "#ff0000", "#0000ff"]},
          "legend": {
            "orient": "none", "legendX": 222, "legendY": 227, "title": null,
            "symbolType": "stroke", "symbolSize": 961, "symbolStrokeWidth": 1.5,
            "labelFontSize": 14, "labelLimit": 400, "labelOffset": 4, "rowPadding": 22,
            "strokeColor": "#000", "padding": 4
          }
        }
      }
    }
  ]
}
